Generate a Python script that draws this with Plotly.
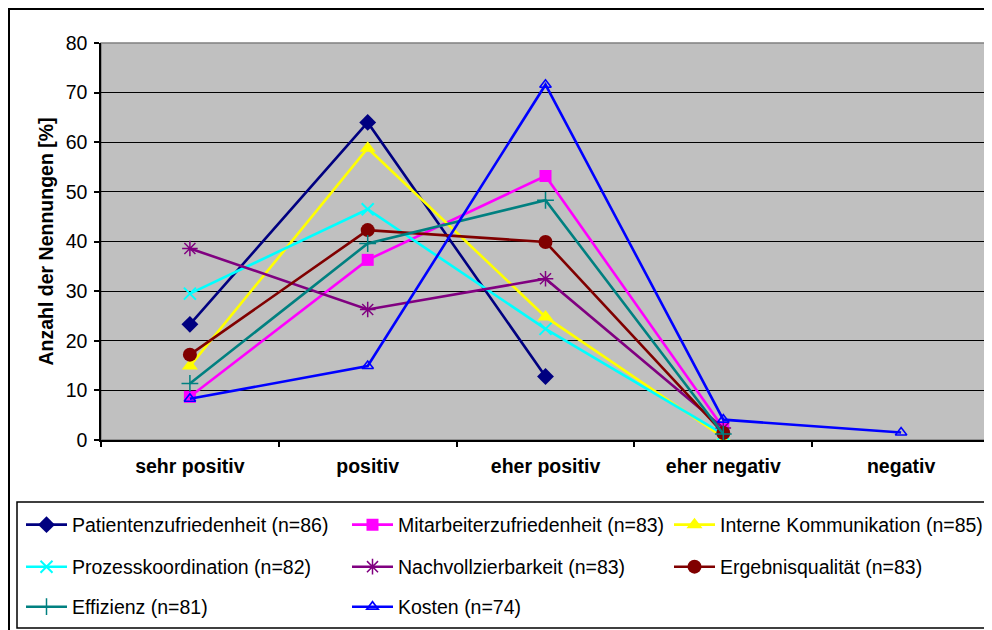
import plotly.graph_objects as go

categories = ["sehr positiv", "positiv", "eher positiv", "eher negativ", "negativ"]

series_names = [
    "Patientenzufriedenheit (n=86)",
    "Mitarbeiterzufriedenheit (n=83)",
    "Interne Kommunikation (n=85)",
    "Prozesskoordination (n=82)",
    "Nachvollzierbarkeit (n=83)",
    "Ergebnisqualität (n=83)",
    "Effizienz (n=81)",
    "Kosten (n=74)",
]

patienten = [23.3, 64.0, 12.8, None, None]
mitarbeiter = [8.7, 36.3, 53.2, 2.4, None]
interne = [14.9, 58.8, 24.8, 0.5, None]
prozess = [29.5, 46.5, 22.4, 1.2, None]
nachvollzierbarkeit = [38.6, 26.3, 32.5, 2.4, None]
ergebnis = [17.2, 42.3, 39.9, 1.4, None]
effizienz = [11.4, 39.6, 48.3, 1.2, None]
kosten = [8.3, 14.9, 71.6, 4.1, 1.5]

values = [patienten, mitarbeiter, interne, prozess, nachvollzierbarkeit, ergebnis, effizienz, kosten]

colors = ["#000080", "#FF00FF", "#FFFF00", "#00FFFF", "#800080", "#800000", "#008080", "#0000FF"]
symbols = ["diamond", "square", "triangle-up", "x-thin-open", "asterisk-open",
           "circle", "cross-thin-open", "triangle-up-open"]
msizes = [13, 12, 14, 12, 13, 14, 12, 10]
mlinew = [0, 0, 0, 2, 1.5, 0, 1.5, 1.6]

# page offset (browser body margin) and geometry in screenshot pixels
OFF = 8
W, H = 992 - OFF, 630 - OFF
L, R, T, B = 101, 990, 43, 440  # plot area in screenshot pixels


def px(x):
    return (x - L) / (R - L)


def py(y):
    return (B - y) / (B - T)


# legend placement: (symbol-left pixel, row-center pixel) in screenshot pixels
col_x = [26, 352, 674]
row_y = [525, 567, 607]
leg_pos = [
    (col_x[0], row_y[0]), (col_x[1], row_y[0]), (col_x[2], row_y[0]),
    (col_x[0], row_y[1]), (col_x[1], row_y[1]), (col_x[2], row_y[1]),
    (col_x[0], row_y[2]), (col_x[1], row_y[2]),
]

FONT = "Liberation Sans, Arial, sans-serif"
FS = 19.5

fig = go.Figure()
for i, (name, vals) in enumerate(zip(series_names, values)):
    legend_id = "legend" if i == 0 else f"legend{i + 1}"
    fig.add_trace(go.Scatter(
        x=categories, y=vals, name=name, mode="lines+markers",
        line=dict(color=colors[i], width=2.6),
        marker=dict(symbol=symbols[i], size=msizes[i], color=colors[i],
                    line=dict(color=colors[i], width=mlinew[i])),
        connectgaps=False,
        legend=legend_id,
    ))

legends = {}
for i, (lx, ly) in enumerate(leg_pos):
    key = "legend" if i == 0 else f"legend{i + 1}"
    legends[key] = dict(
        x=px(lx - 5), y=py(ly), xanchor="left", yanchor="middle",
        bgcolor="rgba(0,0,0,0)", borderwidth=0, itemwidth=41,
        font=dict(family=FONT, size=FS, color="black"),
        tracegroupgap=0,
    )

fig.update_layout(
    width=W, height=H,
    margin=dict(l=L - OFF, r=(W + OFF) - R, t=T - OFF, b=(H + OFF) - B, pad=0),
    paper_bgcolor="white",
    plot_bgcolor="#C0C0C0",
    font=dict(family=FONT, size=FS, color="black"),
    showlegend=True,
    **legends,
    xaxis=dict(
        type="category", categoryorder="array", categoryarray=categories,
        range=[-0.5, 4.5], showgrid=False, showline=True, linecolor="black",
        linewidth=1.5, ticks="outside", tickson="boundaries", ticklen=5,
        tickcolor="black", tickwidth=1.5, ticklabelstandoff=8,
        tickfont=dict(family=FONT, size=FS, color="black", weight="bold"),
        fixedrange=True,
    ),
    yaxis=dict(
        range=[0, 80], dtick=10, tick0=0, showgrid=True, gridcolor="black",
        gridwidth=1.2, showline=True, linecolor="black", linewidth=1.5,
        ticks="outside", ticklen=5, tickcolor="black", tickwidth=1.5,
        zeroline=False, ticklabelstandoff=3,
        tickfont=dict(family=FONT, size=FS, color="black"),
        fixedrange=True,
    ),
    shapes=[
        # plot area border (top/right grey)
        dict(type="rect", xref="paper", yref="paper", x0=0, x1=1, y0=0, y1=1,
             line=dict(color="#808080", width=1.5), layer="below"),
        # outer chart border
        dict(type="rect", xref="paper", yref="paper",
             x0=px(9), x1=px(1010), y0=py(660), y1=py(9),
             line=dict(color="black", width=2), layer="above"),
        # legend box
        dict(type="rect", xref="paper", yref="paper",
             x0=px(17), x1=px(990), y0=py(628), y1=py(502),
             line=dict(color="black", width=1.5), layer="above"),
    ],
    annotations=[
        dict(text="<b>Anzahl der Nennungen [%]</b>", textangle=-90,
             xref="paper", yref="paper", x=px(45), y=0.5,
             xanchor="center", yanchor="middle", showarrow=False,
             font=dict(family=FONT, size=FS, color="black")),
    ],
)

fig.write_html("out.html")
